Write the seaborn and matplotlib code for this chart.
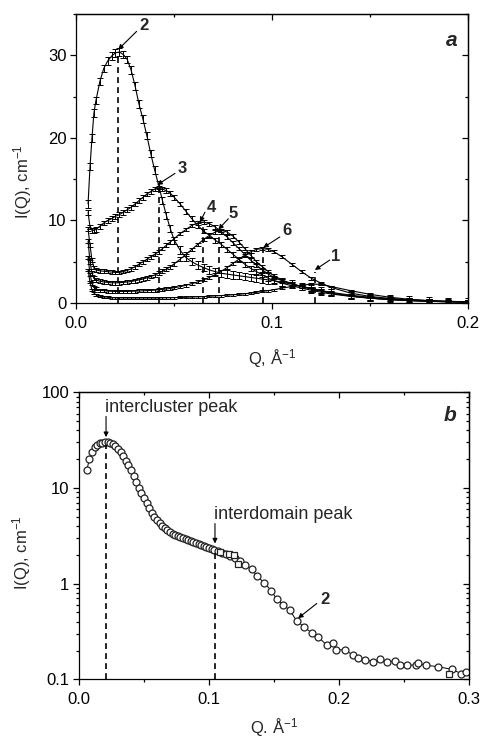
import numpy as np
import matplotlib
matplotlib.use("Agg")
import matplotlib.pyplot as plt
import seaborn as sns
from matplotlib.ticker import AutoMinorLocator, LogLocator, FixedLocator, NullFormatter, FuncFormatter

# ---------------- data: panel a ----------------
q_a = [0.006, 0.007, 0.008, 0.009, 0.010, 0.012, 0.014, 0.016, 0.018, 0.020,
       0.022, 0.024, 0.026, 0.028, 0.030, 0.032, 0.034, 0.036, 0.038, 0.040,
       0.042, 0.044, 0.046, 0.048, 0.050, 0.053, 0.056, 0.059, 0.062, 0.065,
       0.068, 0.071, 0.074, 0.077, 0.080, 0.083, 0.086, 0.089, 0.092, 0.095,
       0.098, 0.101, 0.105, 0.110, 0.115, 0.120, 0.125, 0.130, 0.140, 0.150,
       0.160, 0.170, 0.180, 0.190, 0.200]

curve1 = [4.0, 2.5, 1.6, 1.2, 1.0, 0.85, 0.75, 0.7, 0.66, 0.63,
          0.62, 0.6, 0.6, 0.6, 0.6, 0.6, 0.6, 0.6, 0.6, 0.6,
          0.61, 0.62, 0.63, 0.64, 0.65, 0.67, 0.7, 0.72, 0.75, 0.78,
          0.82, 0.86, 0.9, 0.95, 1.0, 1.06, 1.12, 1.2, 1.3, 1.4,
          1.5, 1.62, 1.8, 2.0, 2.15, 2.3, 2.25, 2.0, 1.5, 1.05,
          0.7, 0.45, 0.3, 0.2, 0.14]
curve2 = [12.0, 16.5, 20.0, 23.0, 24.5, 26.8, 28.4, 29.3, 29.9, 30.3,
          30.4, 30.1, 29.5, 28.2, 26.3, 24.1, 22.3, 20.3, 18.1, 16.1,
          14.3, 12.4, 10.6, 9.0, 7.6, 6.4, 5.5, 5.0, 4.6, 4.3,
          4.0, 3.8, 3.6, 3.5, 3.4, 3.3, 3.2, 3.1, 3.0, 2.9,
          2.8, 2.7, 2.5, 2.3, 2.0, 1.8, 1.5, 1.3, 0.95, 0.7,
          0.5, 0.38, 0.28, 0.2, 0.15]
curve3 = [11.0, 9.2, 8.8, 8.8, 8.9, 9.3, 9.7, 10.0, 10.2, 10.5,
          10.7, 11.0, 11.3, 11.6, 12.0, 12.4, 12.8, 13.2, 13.5, 13.8,
          13.9, 13.8, 13.6, 13.3, 12.8, 12.0, 11.1, 10.2, 9.4, 8.7,
          8.2, 7.6, 7.1, 6.5, 5.9, 5.3, 4.7, 4.2, 3.8, 3.4,
          3.0, 2.7, 2.4, 2.1, 1.8, 1.55, 1.3, 1.1, 0.8, 0.58,
          0.42, 0.3, 0.22, 0.16, 0.12]
curve4 = [9.0, 7.0, 5.2, 4.3, 4.0, 3.9, 3.85, 3.8, 3.75, 3.7,
          3.7, 3.8, 3.95, 4.15, 4.4, 4.7, 5.0, 5.3, 5.6, 5.9,
          6.2, 6.6, 7.0, 7.4, 7.8, 8.4, 8.9, 9.4, 9.7, 9.8,
          9.6, 9.2, 8.6, 8.0, 7.3, 6.6, 5.9, 5.2, 4.6, 4.0,
          3.5, 3.1, 2.7, 2.3, 2.0, 1.7, 1.45, 1.2, 0.85, 0.6,
          0.42, 0.3, 0.21, 0.15, 0.11]
curve5 = [7.5, 5.0, 3.6, 3.0, 2.8, 2.65, 2.55, 2.5, 2.45, 2.45,
          2.45, 2.5, 2.55, 2.6, 2.7, 2.8, 2.9, 3.05, 3.2, 3.4,
          3.6, 3.85, 4.1, 4.4, 4.75, 5.3, 5.9, 6.5, 7.1, 7.7,
          8.2, 8.6, 8.8, 8.6, 8.1, 7.4, 6.6, 5.8, 5.0, 4.4,
          3.8, 3.3, 2.8, 2.35, 2.0, 1.7, 1.45, 1.2, 0.85, 0.6,
          0.42, 0.3, 0.21, 0.15, 0.11]
curve6 = [5.5, 3.5, 2.4, 1.9, 1.7, 1.55, 1.5, 1.45, 1.42, 1.4,
          1.4, 1.4, 1.4, 1.42, 1.44, 1.46, 1.48, 1.5, 1.53, 1.56,
          1.6, 1.65, 1.7, 1.77, 1.85, 1.98, 2.15, 2.35, 2.55, 2.8,
          3.1, 3.45, 3.85, 4.3, 4.8, 5.3, 5.8, 6.2, 6.5, 6.6,
          6.5, 6.2, 5.6, 4.7, 3.8, 3.0, 2.4, 1.9, 1.2, 0.8,
          0.55, 0.38, 0.26, 0.18, 0.13]
curves_a = {"1": curve1, "2": curve2, "3": curve3, "4": curve4, "5": curve5, "6": curve6}
errs_a = {"1": 0.12, "2": 0.45, "3": 0.28, "4": 0.22, "5": 0.22, "6": 0.18}

# peak markers (dashed lines) for panel a
peak_labels = ["2", "3", "4", "5", "6", "1"]
peak_q = [0.0214, 0.0424, 0.0645, 0.0728, 0.0951, 0.1218]
peak_top = [30.4, 13.9, 9.8, 8.8, 6.6, 3.8]
label_xy = [(0.0345, 33.6), (0.0540, 16.3), (0.0688, 11.6), (0.0803, 10.8), (0.1075, 8.8), (0.1322, 5.6)]
arrow_tail = [(0.0308, 32.9), (0.0504, 15.7), (0.0657, 11.0), (0.0776, 10.2), (0.1039, 8.0), (0.1294, 5.2)]
arrow_tip = [(0.0214, 30.7), (0.0413, 14.3), (0.0631, 9.8), (0.0725, 8.9), (0.0954, 6.7), (0.1218, 4.0)]

# ---------------- data: panel b ----------------
q_b = [0.006, 0.008, 0.010, 0.012, 0.014, 0.016, 0.018, 0.020, 0.022, 0.024,
       0.026, 0.028, 0.030, 0.032, 0.034, 0.036, 0.038, 0.040, 0.042, 0.044,
       0.046, 0.048, 0.050, 0.052, 0.054, 0.056, 0.058, 0.060, 0.062, 0.064,
       0.066, 0.068, 0.070, 0.072, 0.074, 0.076, 0.078, 0.080, 0.082, 0.084,
       0.086, 0.088, 0.090, 0.092, 0.094, 0.096, 0.098, 0.100, 0.102, 0.104,
       0.107, 0.110, 0.113, 0.116, 0.120, 0.124, 0.128, 0.1328, 0.137, 0.1426,
       0.148, 0.152, 0.157, 0.162, 0.1674, 0.173, 0.179, 0.184, 0.1905, 0.1956,
       0.198, 0.2046, 0.211, 0.215, 0.220, 0.2264, 0.2315, 0.2367, 0.243, 0.247,
       0.252, 0.259, 0.261, 0.267, 0.276, 0.2867, 0.294, 0.298]
i_b = [15.4, 20.0, 23.5, 26.5, 28.3, 29.2, 29.7, 30.0, 30.1, 29.8,
       29.0, 27.6, 25.8, 23.9, 21.7, 19.3, 17.2, 15.3, 13.5, 11.6,
       10.1, 8.9, 7.9, 7.0, 6.2, 5.5, 5.0, 4.65, 4.35, 4.05,
       3.8, 3.6, 3.45, 3.33, 3.22, 3.13, 3.05, 2.98, 2.92, 2.85,
       2.78, 2.7, 2.63, 2.57, 2.52, 2.48, 2.43, 2.38, 2.3, 2.25,
       2.2, 2.1, 2.05, 1.95, 1.85, 1.72, 1.58, 1.42, 1.2, 1.02,
       0.84, 0.69, 0.6, 0.53, 0.41, 0.354, 0.306, 0.278, 0.228, 0.237,
       0.205, 0.202, 0.179, 0.168, 0.161, 0.153, 0.163, 0.153, 0.155, 0.141,
       0.141, 0.141, 0.147, 0.14, 0.136, 0.127, 0.115, 0.12]
q_b_sq = [0.1085, 0.1155, 0.1195, 0.1225, 0.285]
i_b_sq = [2.15, 2.05, 2.0, 1.62, 0.113]

# ---------------- style ----------------
sns.set_theme(style="ticks")
plt.rcParams["font.family"] = ["Liberation Sans", "DejaVu Sans"]
plt.rcParams["mathtext.fontset"] = "custom"
plt.rcParams["mathtext.rm"] = "Liberation Sans"
plt.rcParams["mathtext.it"] = "Liberation Sans:italic"
plt.rcParams["axes.edgecolor"] = "black"
plt.rcParams["axes.linewidth"] = 0.9
plt.rcParams["xtick.color"] = "black"
plt.rcParams["ytick.color"] = "black"

FS = 12
fig = plt.figure(figsize=(4.82, 7.38), dpi=100)
ax1 = fig.add_axes([0.1583, 0.5894, 0.8127, 0.3916])
ax2 = fig.add_axes([0.1639, 0.0795, 0.8091, 0.3889])


def style_axes(ax, log=False):
    ax.set_facecolor("white")
    ax.tick_params(which="both", direction="out", top=False, right=False,
                   labelsize=FS, width=0.9, colors="black", pad=3)
    ax.tick_params(which="major", length=4)
    ax.tick_params(which="minor", length=2.5)
    ax.tick_params(axis="x", pad=5)
    for s in ax.spines.values():
        s.set_color("black")
        s.set_linewidth(0.9)
    secx = ax.secondary_xaxis("top")
    secx.tick_params(which="both", direction="in", labeltop=False, width=0.9)
    secx.tick_params(which="major", length=4)
    secx.tick_params(which="minor", length=2.5)
    secx.xaxis.set_major_locator(FixedLocator(ax.get_xticks()))
    secx.xaxis.set_minor_locator(AutoMinorLocator(2))
    secy = ax.secondary_yaxis("right")
    secy.tick_params(which="both", direction="in", labelright=False, width=0.9)
    secy.tick_params(which="major", length=4)
    secy.tick_params(which="minor", length=2.5)
    if log:
        secy.yaxis.set_major_locator(LogLocator(base=10))
        secy.yaxis.set_minor_locator(LogLocator(base=10, subs=np.arange(2, 10)))
        secy.yaxis.set_minor_formatter(NullFormatter())
        secy.yaxis.set_major_formatter(NullFormatter())
    else:
        secy.yaxis.set_major_locator(FixedLocator(ax.get_yticks()))
        secy.yaxis.set_minor_locator(AutoMinorLocator(2))


# ---------------- panel a ----------------
ax1.set_xlim(0, 0.2)
ax1.set_ylim(0, 35)
for key, vals in curves_a.items():
    sns.lineplot(x=q_a, y=vals, ax=ax1, color="black", lw=0.8,
                 estimator=None, sort=False, legend=False)
    ax1.errorbar(q_a, vals, yerr=errs_a[key], fmt="none", ecolor="black",
                 elinewidth=0.7, capsize=2.2, capthick=0.7)
ax1.vlines(peak_q, 0, peak_top, colors="black", linestyles=(0, (3.5, 2.5)), lw=1.2)
for lab, lxy, tail, tip in zip(peak_labels, label_xy, arrow_tail, arrow_tip):
    ax1.text(lxy[0], lxy[1], lab, fontsize=12, fontweight="bold", ha="center", va="center")
    ax1.annotate("", xy=tip, xytext=tail,
                 arrowprops=dict(arrowstyle="-|>", lw=0.8, color="black",
                                 mutation_scale=7, shrinkA=0, shrinkB=0))
ax1.text(0.1915, 31.8, "a", fontsize=15, fontweight="bold", fontstyle="italic",
         ha="center", va="center")
ax1.set_xticks([0.0, 0.1, 0.2])
ax1.set_xticklabels(["0.0", "0.1", "0.2"])
ax1.set_yticks([0, 10, 20, 30])
ax1.xaxis.set_minor_locator(AutoMinorLocator(2))
ax1.yaxis.set_minor_locator(AutoMinorLocator(2))
ax1.set_xlabel(r"Q, Å$^{-1}$", fontsize=FS)
ax1.set_ylabel(r"I(Q), cm$^{-1}$", fontsize=FS)
ax1.xaxis.set_label_coords(0.5, -0.152)
ax1.yaxis.set_label_coords(-0.108, 0.42)
style_axes(ax1)

# ---------------- panel b ----------------
ax2.set_yscale("log")
ax2.set_xlim(0, 0.3)
ax2.set_ylim(0.1, 100)
sns.lineplot(x=q_b, y=i_b, ax=ax2, color="black", lw=0.7, estimator=None, sort=False,
             legend=False, marker="o", markersize=5, markerfacecolor="white",
             markeredgecolor="#222222", markeredgewidth=0.9)
ax2.plot(q_b_sq, i_b_sq, ls="none", marker="s", markersize=4.5, markerfacecolor="white",
         markeredgecolor="#222222", markeredgewidth=0.9)
ax2.vlines([0.0208], 0.1, 28.0, colors="black", linestyles=(0, (3.5, 2.5)), lw=1.2)
ax2.vlines([0.1046], 0.1, 2.15, colors="black", linestyles=(0, (3.5, 2.5)), lw=1.2)
ax2.text(0.0712, 69, "intercluster peak", fontsize=13, ha="center", va="center")
ax2.annotate("", xy=(0.0208, 34.0), xytext=(0.0208, 56.0),
             arrowprops=dict(arrowstyle="-|>", lw=0.8, color="black",
                             mutation_scale=7, shrinkA=0, shrinkB=0))
ax2.text(0.157, 5.27, "interdomain peak", fontsize=13, ha="center", va="center")
ax2.annotate("", xy=(0.1046, 2.63), xytext=(0.1046, 4.25),
             arrowprops=dict(arrowstyle="-|>", lw=0.8, color="black",
                             mutation_scale=7, shrinkA=0, shrinkB=0))
ax2.text(0.1892, 0.687, "2", fontsize=12, fontweight="bold", ha="center", va="center")
ax2.annotate("", xy=(0.1685, 0.435), xytext=(0.1829, 0.62),
             arrowprops=dict(arrowstyle="-|>", lw=0.8, color="black",
                             mutation_scale=7, shrinkA=0, shrinkB=0))
ax2.text(0.2854, 56.6, "b", fontsize=15, fontweight="bold", fontstyle="italic",
         ha="center", va="center")
ax2.set_xticks([0.0, 0.1, 0.2, 0.3])
ax2.set_xticklabels(["0.0", "0.1", "0.2", "0.3"])
ax2.xaxis.set_minor_locator(AutoMinorLocator(2))
ax2.yaxis.set_major_locator(FixedLocator([0.1, 1, 10, 100]))
ax2.yaxis.set_major_formatter(FuncFormatter(lambda v, p: {0.1: "0.1", 1: "1", 10: "10", 100: "100"}.get(round(v, 3), "")))
ax2.yaxis.set_minor_locator(LogLocator(base=10, subs=np.arange(2, 10)))
ax2.yaxis.set_minor_formatter(NullFormatter())
ax2.set_xlabel(r"Q. Å$^{-1}$", fontsize=FS)
ax2.set_ylabel(r"I(Q), cm$^{-1}$", fontsize=FS)
ax2.xaxis.set_label_coords(0.5, -0.128)
ax2.yaxis.set_label_coords(-0.118, 0.44)
style_axes(ax2, log=True)

fig.savefig("out.png", dpi=100, facecolor="white")
